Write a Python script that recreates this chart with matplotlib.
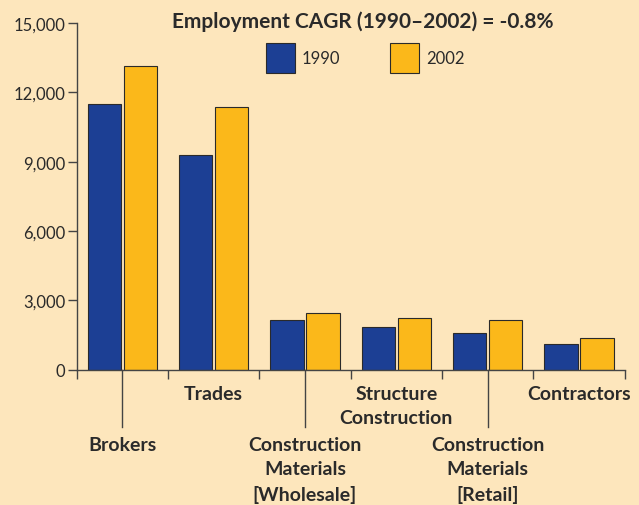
import numpy as np
import matplotlib.pyplot as plt
from matplotlib.ticker import FuncFormatter
import matplotlib.transforms as mtransforms

plt.rcParams['font.family'] = ['Lato', 'DejaVu Sans']

# data
categories = ['Brokers', 'Trades', 'Construction\nMaterials\n[Wholesale]',
              'Structure\nConstruction', 'Construction\nMaterials\n[Retail]',
              'Contractors']
emp_1990 = [11500, 9300, 2170, 1860, 1570, 1130]
emp_2002 = [13130, 11350, 2450, 2240, 2150, 1390]
year_labels = ['1990', '2002']
title = 'Employment CAGR (1990\u20132002) = -0.8%'

bg = '#fde6bc'
blue = '#1c3f94'
yellow = '#fbb81a'
ink = '#2a2a2a'

fig = plt.figure(figsize=(6.39, 5.06), dpi=100, facecolor=bg)
ax = fig.add_axes([0.1199, 0.2674, 0.8577, 0.6852])
ax.set_facecolor(bg)

x = np.arange(len(categories))
w = 0.365
b1 = ax.bar(x - 0.198, emp_1990, w, color=blue, edgecolor=ink, linewidth=0.8,
            label=year_labels[0])
b2 = ax.bar(x + 0.198, emp_2002, w, color=yellow, edgecolor=ink, linewidth=0.8,
            label=year_labels[1])

ax.set_xlim(-0.5, len(categories) - 0.5)
ax.set_ylim(0, 15000)
ax.set_yticks(np.arange(0, 15001, 3000))
ax.yaxis.set_major_formatter(FuncFormatter(lambda v, p: f'{int(v):,}'))
ax.set_xticks(np.arange(-0.5, len(categories), 1.0))
ax.set_xticklabels([])

for s in ['top', 'right']:
    ax.spines[s].set_visible(False)
for s in ['left', 'bottom']:
    ax.spines[s].set_color('#444444')
    ax.spines[s].set_linewidth(1.0)
ax.tick_params(axis='both', length=6.2, width=1.0, color='#444444',
               labelsize=12, labelcolor=ink, pad=2)

# category labels, staggered; the lower ones hang from a thin line
trans = mtransforms.blended_transform_factory(ax.transData, ax.transAxes)
for i, name in enumerate(categories):
    if i % 2 == 0:
        ax.plot([i, i], [0, -0.165], transform=trans, color='#444444',
                lw=1.0, clip_on=False)
        ax.text(i, -0.19, name, transform=trans, ha='center', va='top',
                fontsize=14, fontweight='bold', color=ink, linespacing=1.52)
    else:
        ax.text(i, -0.043, name, transform=trans, ha='center', va='top',
                fontsize=14, fontweight='bold', color=ink, linespacing=1.52)

fig.text(0.567, 0.958, title, ha='center', va='center', fontsize=15,
         fontweight='bold', color=ink)

leg = fig.legend(handles=[b1, b2], loc='center', bbox_to_anchor=(0.571, 0.883),
                 ncol=2, frameon=False, fontsize=12, handlelength=1.75,
                 handleheight=2.4, handletextpad=0.4, columnspacing=3.0,
                 labelcolor=ink)

fig.savefig('out.png', dpi=100, facecolor=bg)
